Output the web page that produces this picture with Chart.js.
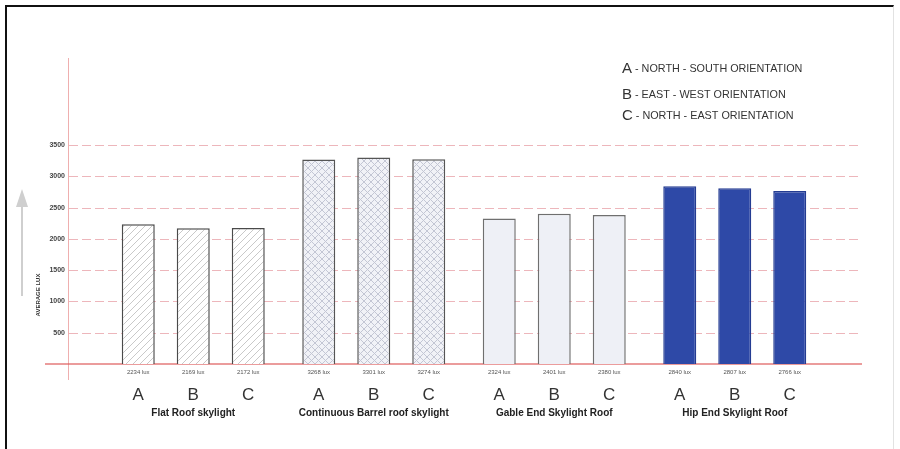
<!DOCTYPE html>
<html>
<head>
<meta charset="utf-8">
<script src="https://cdn.jsdelivr.net/npm/chart.js@4.4.0/dist/chart.umd.min.js"></script>
<style>
  body { margin: 0; background: #fff; }
  #wrap { position: relative; width: 900px; height: 449px; overflow: hidden; }
  #frame { position: absolute; left: 5px; top: 5px; width: 886px; height: 460px;
           border-left: 2px solid #111; border-top: 2px solid #111; border-right: 1px solid #e2e2e2; }
  canvas { position: absolute; left: 0; top: 0; }
</style>
</head>
<body>
<div id="wrap">
  <canvas id="roofChart" width="900" height="449"></canvas>
  <div id="frame"></div>
</div>
<script>
// data
let groups = ["Flat Roof skylight", "Continuous Barrel roof skylight", "Gable End Skylight Roof", "Hip End Skylight Roof"]
let orientations = ["A", "B", "C"]
let seriesA = [2234, 3268, 2324, 2840]
let seriesB = [2169, 3301, 2401, 2807]
let seriesC = [2172, 3274, 2380, 2766]
let yTicks = [500, 1000, 1500, 2000, 2500, 3000, 3500]
let legendText = ["NORTH - SOUTH ORIENTATION", "EAST - WEST ORIENTATION", "NORTH - EAST ORIENTATION"]

let makePattern = (bg, line, cross) => {
    let c = document.createElement("canvas")
    c.width = 7
    c.height = 7
    let g = c.getContext("2d")
    g.fillStyle = bg
    g.fillRect(0, 0, 7, 7)
    g.strokeStyle = line
    g.lineWidth = 1
    g.beginPath()
    g.moveTo(-1, 8); g.lineTo(8, -1)
    g.moveTo(-1, 1); g.lineTo(1, -1)
    g.moveTo(6, 8); g.lineTo(8, 6)
    if (cross) {
        g.moveTo(-1, -1); g.lineTo(8, 8)
        g.moveTo(6, -1); g.lineTo(8, 1)
        g.moveTo(-1, 6); g.lineTo(1, 8)
    }
    g.stroke()
    return g.createPattern(c, "repeat")
}

let fills = [
    makePattern("#ffffff", "#c9c9c9", false),
    makePattern("#f1f2f7", "#c3c6d4", true),
    "#eef0f6",
    "#2e49a7"
]
let borders = ["#4a4a4a", "#555555", "#6f6f6f", "#243c92"]

let decor = {
    id: "decor",
    beforeDatasetsDraw(chart) {
        let ctx = chart.ctx
        let y = chart.scales.y
        ctx.save()
        // dashed grid
        ctx.strokeStyle = "rgba(220,110,120,0.5)"
        ctx.lineWidth = 1
        ctx.setLineDash([9, 4])
        yTicks.forEach(v => {
            let py = Math.round(y.getPixelForValue(v)) + 0.5
            ctx.beginPath()
            ctx.moveTo(69, py)
            ctx.lineTo(862, py)
            ctx.stroke()
        })
        ctx.setLineDash([])
        // axes
        ctx.strokeStyle = "rgba(225,110,110,0.55)"
        ctx.beginPath()
        ctx.moveTo(68.5, 58)
        ctx.lineTo(68.5, 380)
        ctx.stroke()
        ctx.strokeStyle = "rgba(222,90,90,0.8)"
        ctx.lineWidth = 1.5
        let p0 = y.getPixelForValue(0)
        ctx.beginPath()
        ctx.moveTo(45, p0)
        ctx.lineTo(862, p0)
        ctx.stroke()
        // arrow
        ctx.strokeStyle = "#cfcfcf"
        ctx.fillStyle = "#cfcfcf"
        ctx.lineWidth = 2
        ctx.beginPath()
        ctx.moveTo(22, 296)
        ctx.lineTo(22, 205)
        ctx.stroke()
        ctx.beginPath()
        ctx.moveTo(22, 189)
        ctx.lineTo(16, 207)
        ctx.lineTo(28, 207)
        ctx.closePath()
        ctx.fill()
        // axis title
        ctx.fillStyle = "#333"
        ctx.font = "bold 6px 'Liberation Sans'"
        ctx.translate(38, 295)
        ctx.rotate(-Math.PI / 2)
        ctx.textAlign = "center"
        ctx.textBaseline = "middle"
        ctx.fillText("AVERAGE LUX", 0, 0)
        ctx.restore()
        // orientation key
        ctx.save()
        ctx.fillStyle = "#333"
        ctx.textBaseline = "alphabetic"
        let rows = [73, 99, 120]
        orientations.forEach((o, i) => {
            ctx.font = "15px 'Liberation Sans'"
            ctx.fillText(o, 622, rows[i])
            let w = ctx.measureText(o).width
            ctx.font = "10.8px 'Liberation Sans'"
            ctx.fillText(" - " + legendText[i], 622 + w, rows[i] - 1)
        })
        ctx.restore()
    },
    afterDatasetsDraw(chart) {
        let ctx = chart.ctx
        let p0 = chart.scales.y.getPixelForValue(0)
        ctx.save()
        ctx.textAlign = "center"
        chart.data.datasets.forEach((ds, i) => {
            chart.getDatasetMeta(i).data.forEach((bar, j) => {
                ctx.fillStyle = "#555"
                ctx.font = "6px 'Liberation Sans'"
                ctx.textBaseline = "middle"
                ctx.fillText(ds.data[j] + " lux", bar.x, p0 + 8)
                ctx.fillStyle = "#333"
                ctx.font = "17px 'Liberation Sans'"
                ctx.textBaseline = "alphabetic"
                ctx.fillText(ds.label, bar.x, 400)
            })
        })
        ctx.restore()
    }
}

new Chart("roofChart", {
    type: "bar",
    data: {
        labels: groups,
        datasets: [
            { label: orientations[0], data: seriesA },
            { label: orientations[1], data: seriesB },
            { label: orientations[2], data: seriesC }
        ].map(d => Object.assign(d, {
            backgroundColor: fills,
            borderColor: borders,
            borderWidth: 1.5,
            categoryPercentage: 0.914,
            barPercentage: 0.6
        }))
    },
    options: {
        responsive: false,
        animation: false,
        devicePixelRatio: 1,
        layout: { padding: { top: 145, right: 75, bottom: 0, left: 0 } },
        plugins: { legend: { display: false }, tooltip: { enabled: false } },
        scales: {
            x: {
                grid: { display: false, drawTicks: false },
                border: { display: false },
                ticks: { padding: 43, maxRotation: 0, color: "#222",
                         font: { family: "Liberation Sans", size: 10, weight: "bold" } },
                afterFit: s => { s.height = 85 }
            },
            y: {
                min: 0,
                max: 3500,
                grid: { display: false, drawTicks: false },
                border: { display: false },
                ticks: { stepSize: 500, padding: 38, color: "#444",
                         font: { family: "Liberation Sans", size: 7, weight: "bold" },
                         callback: v => v == 0 ? "" : v },
                afterFit: s => { s.width = 103 }
            }
        }
    },
    plugins: [decor]
})
</script>
</body>
</html>
